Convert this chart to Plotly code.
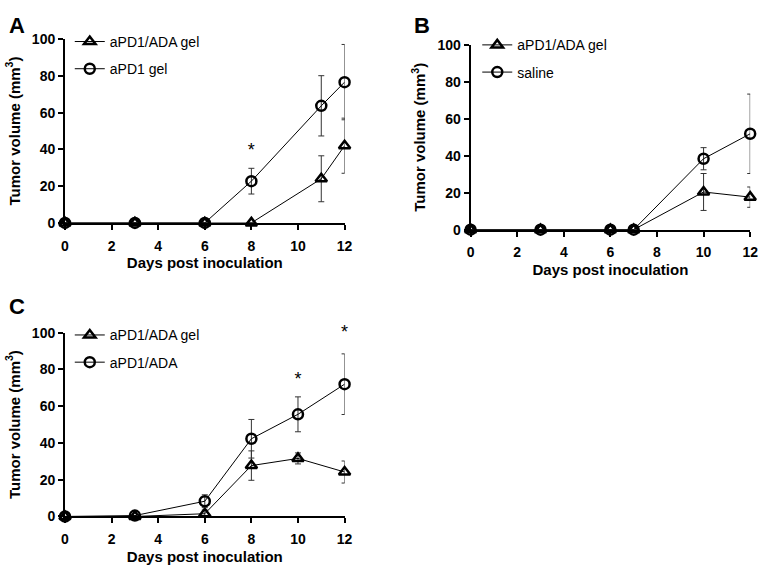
import plotly.graph_objects as go

# Tumor growth curves, three panels (mean +/- error)

# panel A
days_a = [0, 3, 6, 8, 11, 12]
gel_a = [0, 0, 0, 0, 24, 42]
gel_a_err = [0, 0, 0, 0, 12.5, 15]
pd1_a = [0, 0, 0, 22.7, 63.7, 76.6]
pd1_a_err = [0, 0, 0, 7, 16.4, 20.5]
star_a_x = [8]
star_a_y = [39]

# panel B
days_b = [0, 3, 6, 7, 10, 12]
gel_b = [0, 0, 0, 0, 20.4, 17.6]
gel_b_err = [0, 0, 0, 0, 10, 5.5]
saline_b = [0, 0, 0, 0, 38.4, 51.9]
saline_b_err = [0, 0, 0, 0, 6, 21.5]

# panel C
days_c = [0, 3, 6, 8, 10, 12]
gel_c = [0, 0, 1.5, 27.7, 31.6, 24.2]
gel_c_err = [0, 0, 2, 8, 3, 6]
ada_c = [0, 0.5, 8.3, 42.3, 55.6, 72]
ada_c_err = [0, 0, 3.5, 10.5, 9.5, 16.5]
star_c_x = [10, 12]
star_c_y = [74, 99.6]

FONT = "Liberation Sans, Arial, sans-serif"
x_ticks = [0, 2, 4, 6, 8, 10, 12]
y_ticks = [0, 20, 40, 60, 80, 100]


def series(x, y, err, name, symbol, sub, legend, group):
    return go.Scatter(
        x=x, y=y, name=name, mode="lines+markers",
        xaxis="x" + sub, yaxis="y" + sub, legend=legend, legendgroup=group,
        line=dict(color="black", width=1),
        marker=dict(symbol=symbol, size=10, color="black",
                    line=dict(color="black", width=2.5)),
        error_y=dict(type="data", array=err, visible=True,
                     color="#333333", thickness=1, width=3),
        cliponaxis=False,
    )


def stars(x, y, sub):
    return go.Scatter(
        x=x, y=y, mode="text", text=["*"] * len(x),
        textfont=dict(family=FONT, size=18, color="black"),
        xaxis="x" + sub, yaxis="y" + sub, showlegend=False,
        cliponaxis=False, hoverinfo="skip",
    )


fig = go.Figure()
fig.add_trace(series(days_a, gel_a, gel_a_err, "aPD1/ADA gel", "triangle-up-open", "", "legend", "a1"))
fig.add_trace(series(days_a, pd1_a, pd1_a_err, "aPD1 gel", "circle-open", "", "legend", "a2"))
fig.add_trace(stars(star_a_x, star_a_y, ""))

fig.add_trace(series(days_b, gel_b, gel_b_err, "aPD1/ADA gel", "triangle-up-open", "2", "legend2", "b1"))
fig.add_trace(series(days_b, saline_b, saline_b_err, "saline", "circle-open", "2", "legend2", "b2"))

fig.add_trace(series(days_c, gel_c, gel_c_err, "aPD1/ADA gel", "triangle-up-open", "3", "legend3", "c1"))
fig.add_trace(series(days_c, ada_c, ada_c_err, "aPD1/ADA", "circle-open", "3", "legend3", "c2"))
fig.add_trace(stars(star_c_x, star_c_y, "3"))

tick_font = dict(family=FONT, size=14, color="black", weight="bold")
title_font = dict(family=FONT, size=15, color="black", weight="bold")


def xax(domain, anchor):
    return dict(domain=domain, anchor=anchor, range=[0, 12], tickvals=x_ticks,
                showline=True, linecolor="black", linewidth=2, ticks="outside",
                ticklen=5, tickwidth=2, tickcolor="black", showgrid=False,
                zeroline=False, tickfont=tick_font, ticklabelstandoff=4,
                title=dict(text="Days post inoculation", font=title_font, standoff=5))


def yax(domain, anchor):
    return dict(domain=domain, anchor=anchor, range=[0, 100], tickvals=y_ticks,
                showline=True, linecolor="black", linewidth=2, ticks="outside",
                ticklen=5, tickwidth=2, tickcolor="black", showgrid=False,
                zeroline=False, tickfont=tick_font,
                title=dict(text="Tumor volume (mm<sup>3</sup>)", font=title_font, standoff=8))


legend_style = dict(font=dict(family=FONT, size=14, color="black"),
                    bgcolor="rgba(0,0,0,0)", tracegroupgap=6,
                    xanchor="left", yanchor="top", itemwidth=30)

fig.update_layout(
    width=768, height=576,
    margin=dict(l=0, r=0, t=0, b=0),
    paper_bgcolor="white", plot_bgcolor="white",
    font=dict(family=FONT, color="black"),
    xaxis=xax([0.0807, 0.4505], "y"),
    yaxis=yax([0.6163, 0.9444], "x"),
    xaxis2=xax([0.6172, 0.987], "y2"),
    yaxis2=yax([0.6042, 0.934], "x2"),
    xaxis3=xax([0.0807, 0.4505], "y3"),
    yaxis3=yax([0.092, 0.4201], "x3"),
    legend=dict(legend_style, x=0.087, y=0.968),
    legend2=dict(legend_style, x=0.626, y=0.962),
    legend3=dict(legend_style, x=0.087, y=0.444),
    annotations=[
        dict(text="A", x=0.004, y=0.995, xref="paper", yref="paper",
             xanchor="left", yanchor="top", showarrow=False,
             font=dict(family=FONT, size=22, color="black", weight="bold")),
        dict(text="B", x=0.54, y=0.995, xref="paper", yref="paper",
             xanchor="left", yanchor="top", showarrow=False,
             font=dict(family=FONT, size=22, color="black", weight="bold")),
        dict(text="C", x=0.004, y=0.492, xref="paper", yref="paper",
             xanchor="left", yanchor="top", showarrow=False,
             font=dict(family=FONT, size=22, color="black", weight="bold")),
    ],
)

fig.write_html("out.html", config={"displayModeBar": False},
               post_script="document.body.style.margin='0';")
